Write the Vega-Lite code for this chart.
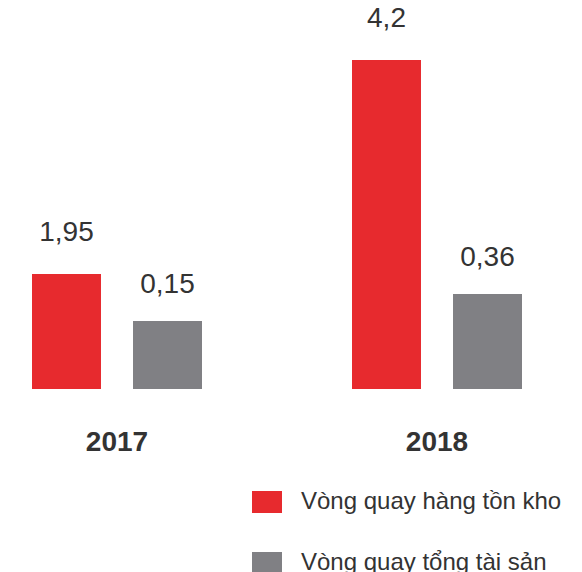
{
  "$schema": "https://vega.github.io/schema/vega-lite/v6.json",
  "width": 554,
  "height": 389,
  "padding": 0,
  "background": "white",
  "config": {
    "view": {"stroke": null},
    "font": "Liberation Sans",
    "locale": {"number": {"decimal": ",", "thousands": ".", "grouping": [3], "currency": ["", ""]}}
  },
  "data": {
    "values": [
      {"year": "2017", "series": "Vòng quay hàng tồn kho", "value": 1.95},
      {"year": "2017", "series": "Vòng quay tổng tài sản", "value": 0.15},
      {"year": "2018", "series": "Vòng quay hàng tồn kho", "value": 4.2},
      {"year": "2018", "series": "Vòng quay tổng tài sản", "value": 0.36}
    ]
  },
  "encoding": {
    "x": {
      "field": "year",
      "type": "nominal",
      "scale": {"paddingInner": 0.46875, "paddingOuter": 0.1},
      "axis": {
        "title": null,
        "domain": false,
        "ticks": false,
        "tickSize": 0,
        "labelAngle": 0,
        "labelFontSize": 28,
        "labelFontWeight": "bold",
        "labelColor": "#333333",
        "labelFont": "Liberation Sans",
        "labelPadding": 39,
        "labelDx": 4,
        "labelBaseline": "top"
      }
    },
    "xOffset": {
      "field": "series",
      "type": "nominal",
      "scale": {"domain": ["Vòng quay hàng tồn kho", "Vòng quay tổng tài sản"], "paddingInner": 0.317, "paddingOuter": 0}
    }
  },
  "layer": [
    {
      "transform": [{"filter": "datum.series === 'Vòng quay hàng tồn kho'"}],
      "encoding": {
        "y": {"field": "value", "type": "quantitative", "scale": {"type": "pow", "exponent": 1.37, "domain": [0, 4.747]}, "axis": null}
      },
      "layer": [
        {
          "mark": {"type": "bar"},
          "encoding": {
            "color": {
              "field": "series",
              "type": "nominal",
              "scale": {"domain": ["Vòng quay hàng tồn kho", "Vòng quay tổng tài sản"], "range": ["#E72A2E", "#808084"]},
              "legend": {
                "title": null,
                "orient": "none",
                "legendX": 252,
                "legendY": 487,
                "direction": "vertical",
                "symbolType": "M-1,-0.733H1V0.733H-1Z",
                "symbolSize": 900,
                "symbolStrokeWidth": 0,
                "labelFontSize": 24,
                "labelFont": "Liberation Sans",
                "labelColor": "#333333",
                "labelOffset": 19,
                "labelLimit": 400,
                "rowPadding": 34,
                "padding": 0
              }
            }
          }
        },
        {
          "mark": {"type": "text", "dy": -33, "baseline": "alphabetic", "fontSize": 28, "color": "#333333", "font": "Liberation Sans"},
          "encoding": {"text": {"field": "value", "type": "quantitative", "format": "~g"}}
        }
      ]
    },
    {
      "transform": [{"filter": "datum.series === 'Vòng quay tổng tài sản'"}],
      "encoding": {
        "y": {"field": "value", "type": "quantitative", "scale": {"type": "pow", "exponent": 0.382, "domain": [0, 14.44]}, "axis": null}
      },
      "layer": [
        {
          "mark": {"type": "bar"},
          "encoding": {
            "color": {
              "field": "series",
              "type": "nominal",
              "scale": {"domain": ["Vòng quay hàng tồn kho", "Vòng quay tổng tài sản"], "range": ["#E72A2E", "#808084"]}
            }
          }
        },
        {
          "mark": {"type": "text", "dy": -28, "baseline": "alphabetic", "fontSize": 28, "color": "#333333", "font": "Liberation Sans"},
          "encoding": {"text": {"field": "value", "type": "quantitative", "format": "~g"}}
        }
      ]
    }
  ],
  "resolve": {"scale": {"y": "independent"}}
}
